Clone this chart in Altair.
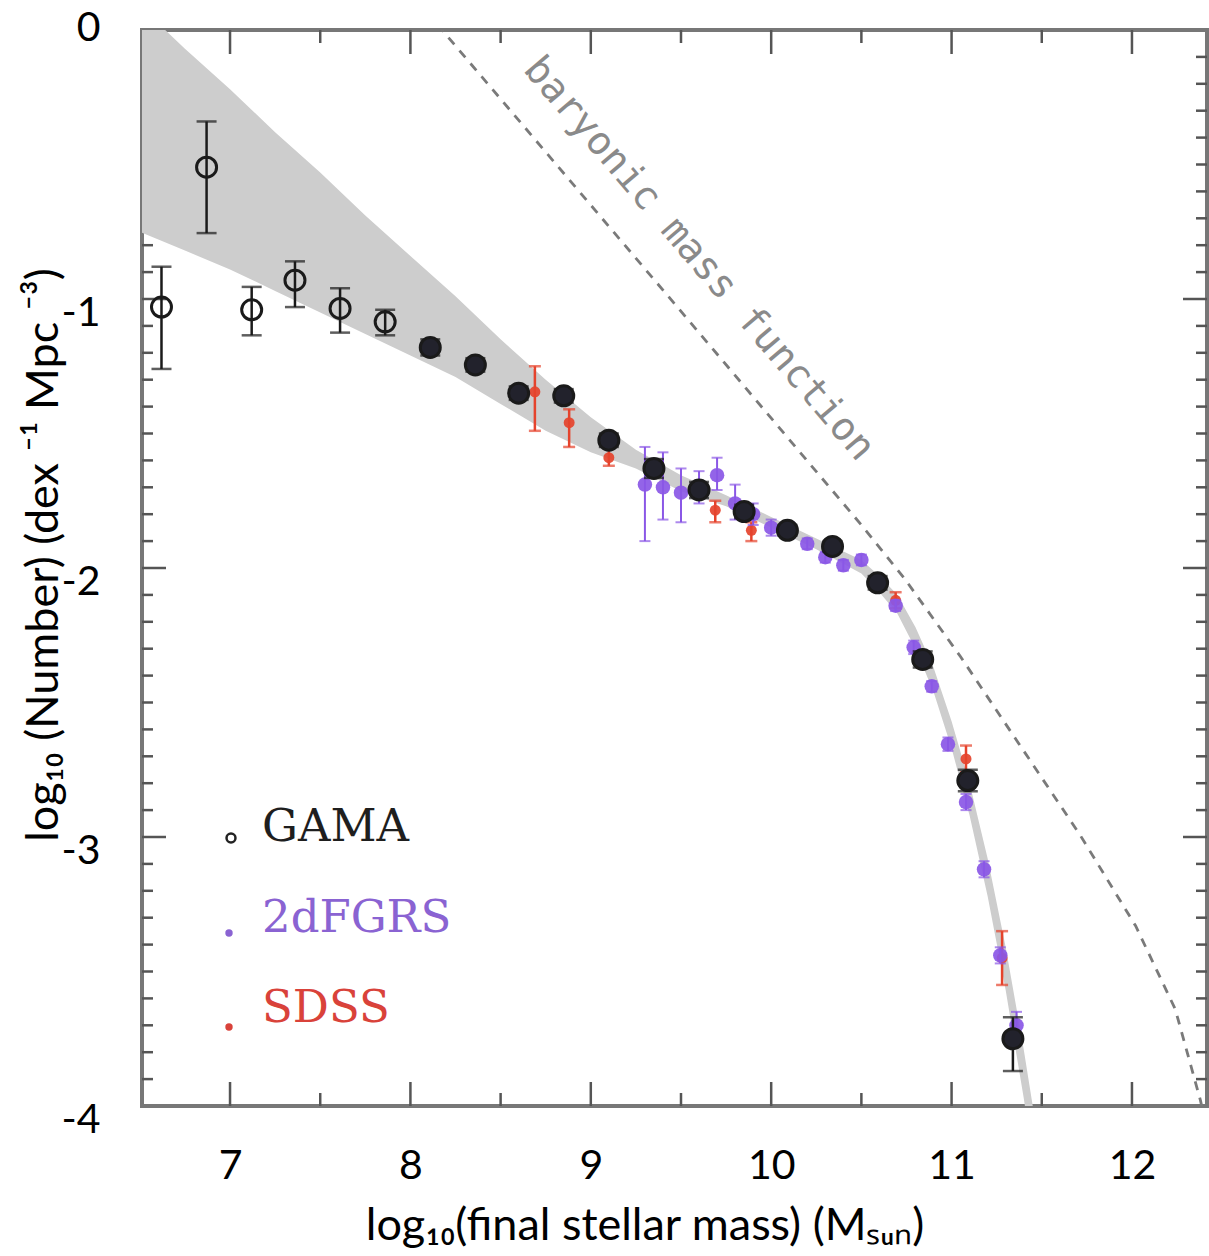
import altair as alt
import pandas as pd

# ---------------- data ----------------
gama_x = [6.62, 6.87, 7.12, 7.36, 7.61, 7.86, 8.11, 8.36, 8.60, 8.85,
          9.10, 9.35, 9.60, 9.85, 10.09, 10.34, 10.59, 10.84, 11.09, 11.34]
gama_y = [-1.03, -0.51, -1.04, -0.93, -1.035, -1.085, -1.18, -1.245, -1.35, -1.36,
          -1.525, -1.63, -1.71, -1.79, -1.86, -1.92, -2.055, -2.34, -2.79, -3.75]
gama_lo = [-1.26, -0.755, -1.135, -1.03, -1.125, -1.135, -1.21, -1.27, -1.375, -1.385,
           -1.55, -1.665, -1.74, -1.815, -1.88, -1.94, -2.08, -2.37, -2.83, -3.87]
gama_hi = [-0.88, -0.34, -0.955, -0.86, -0.96, -1.04, -1.15, -1.22, -1.325, -1.335,
           -1.50, -1.595, -1.68, -1.765, -1.84, -1.90, -2.03, -2.31, -2.75, -3.67]

tdf_x = [9.30, 9.40, 9.50, 9.60, 9.70, 9.80, 9.90, 10.00, 10.10, 10.20, 10.30,
         10.40, 10.50, 10.60, 10.69, 10.79, 10.89, 10.98, 11.08, 11.18, 11.27, 11.36]
tdf_y = [-1.69, -1.70, -1.72, -1.70, -1.655, -1.76, -1.80, -1.85, -1.86, -1.91, -1.96,
         -1.99, -1.97, -2.05, -2.14, -2.295, -2.44, -2.655, -2.87, -3.12, -3.44, -3.70]
tdf_lo = [-1.90, -1.82, -1.83, -1.76, -1.71, -1.82, -1.84, -1.88, -1.89, -1.93, -1.98,
          -2.01, -1.99, -2.07, -2.16, -2.32, -2.46, -2.68, -2.90, -3.15, -3.47, -3.75]
tdf_hi = [-1.55, -1.57, -1.63, -1.64, -1.59, -1.69, -1.76, -1.82, -1.83, -1.89, -1.94,
          -1.97, -1.95, -2.03, -2.12, -2.27, -2.42, -2.63, -2.84, -3.09, -3.41, -3.65]

sdss_x = [8.69, 8.88, 9.10, 9.69, 9.89, 10.69, 11.08, 11.28]
sdss_y = [-1.345, -1.46, -1.59, -1.785, -1.86, -2.12, -2.71, -3.45]
sdss_lo = [-1.49, -1.55, -1.62, -1.83, -1.90, -2.15, -2.76, -3.55]
sdss_hi = [-1.25, -1.41, -1.52, -1.75, -1.83, -2.09, -2.66, -3.35]

band_x = [6.50, 6.75, 7.00, 7.25, 7.50, 7.75, 8.00, 8.25, 8.50, 8.75, 9.00, 9.25,
          9.50, 9.75, 10.00, 10.25, 10.50, 10.60, 10.70, 10.80, 10.90, 11.00,
          11.10, 11.20, 11.30, 11.40, 11.45]
band_up = [0.09, -0.07, -0.22, -0.38, -0.53, -0.69, -0.84, -0.99, -1.15, -1.30, -1.44, -1.56,
           -1.655, -1.73, -1.81, -1.89, -1.97, -2.03, -2.10, -2.22, -2.37, -2.57,
           -2.80, -3.08, -3.41, -3.79, -4.0]
band_lo = [-0.75, -0.82, -0.89, -0.97, -1.05, -1.13, -1.21, -1.29, -1.39, -1.49, -1.57, -1.63,
           -1.715, -1.77, -1.85, -1.93, -2.02, -2.09, -2.17, -2.30, -2.46, -2.67,
           -2.92, -3.22, -3.57, -3.97, -4.2]

bary_x = [8.15, 9.48, 10.50, 10.74, 11.05, 11.38, 11.71, 12.02, 12.24, 12.38, 12.42]
bary_y = [0.02, -1.03, -1.84, -2.04, -2.33, -2.66, -2.99, -3.33, -3.64, -3.98, -4.1]

x_major = [7, 8, 9, 10, 11, 12]
x_half = [7.5, 8.5, 9.5, 10.5, 11.5]
y_labels = [0, -1, -2, -3, -4]
y_major = [-1, -2, -3]
y_minor = [-0.1, -0.2, -0.3, -0.4, -0.5, -0.6, -0.7, -0.8, -0.9,
           -1.1, -1.2, -1.3, -1.4, -1.5, -1.6, -1.7, -1.8, -1.9,
           -2.1, -2.2, -2.3, -2.4, -2.5, -2.6, -2.7, -2.8, -2.9,
           -3.1, -3.2, -3.3, -3.4, -3.5, -3.6, -3.7, -3.8, -3.9]

legend_names = ["GAMA", "2dFGRS", "SDSS"]
x_title = "log\u2081\u2080(final stellar mass) (M\u209b\u1d64\u2099)"
y_title = "log\u2081\u2080 (Number) (dex \u207b\u00b9 Mpc \u207b\u00b3)"
annot = "baryonic mass function"

# ---------------- layout ----------------
W, H = 1065, 1076
xs = alt.Scale(domain=[6.512, 12.416], nice=False, zero=False)
ys = alt.Scale(domain=[-4, 0], nice=False, zero=False)
FONT = "Lato"
TICK_C = "#555555"
C_GAMA = "#1a1a1a"
C_2DF = "#8a57e6"
C_SDSS = "#e5432c"

x_axis = alt.Axis(values=x_major, format="d", labelFont=FONT, labelFontSize=41,
                  labelColor="black", labelPadding=40, domain=False, ticks=False, grid=False,
                  title=None, labelFlush=False, labelOverlap=False)
y_axis = alt.Axis(values=y_labels, labelFont=FONT, labelFontSize=41,
                  labelColor="black", labelPadding=42, domain=False, ticks=False, grid=False,
                  title=None, labelFlush=False, labelOverlap=False, labelBaseline="middle",
                  labelExpr="datum.value == 0 ? '0' : '-' + format(-datum.value, 'd')",
                  labelOffset={"condition": {"test": "datum.value == 0", "value": -2}, "value": 14})


def XQ(field):
    return alt.X(field, type="quantitative", scale=xs, axis=x_axis)


def YQ(field):
    return alt.Y(field, type="quantitative", scale=ys, axis=y_axis)


band_df = pd.DataFrame({"x": band_x, "up": band_up, "lo": band_lo})
band = alt.Chart(band_df).mark_area(color="#cdcdcd", clip=True).encode(
    x=XQ("x"), y=YQ("up"), y2="lo:Q")


def vticks(vals, y0, y1):
    return alt.Chart(pd.DataFrame({"v": vals})).mark_rule(color=TICK_C, strokeWidth=2.5).encode(
        x=XQ("v"), y=alt.value(y0), y2=alt.value(y1))


def hticks(vals, x0, x1):
    return alt.Chart(pd.DataFrame({"v": vals})).mark_rule(color=TICK_C, strokeWidth=2.5).encode(
        y=YQ("v"), x=alt.value(x0), x2=alt.value(x1))


ticks = [vticks(x_major, H, H - 24), vticks(x_half, H, H - 13),
         vticks(x_major, 0, 24), vticks(x_half, 0, 13),
         hticks(y_major, 0, 24), hticks(y_minor, 0, 11),
         hticks(y_major, W, W - 24), hticks(y_minor, W, W - 11)]

bary = alt.Chart(pd.DataFrame({"x": bary_x, "y": bary_y})).mark_line(
    color="#7a7a7a", strokeWidth=2.8, strokeDash=[9, 8], clip=True).encode(
    x=XQ("x"), y=YQ("y"), order="x:Q")

annot_txt = alt.Chart(pd.DataFrame({"t": [annot]})).mark_text(
    font="DejaVu Sans Mono", fontSize=39, color="#8a8a8a", angle=49.5,
    align="center", baseline="middle").encode(
    x=alt.datum(9.60), y=alt.datum(-0.85), text="t:N")


def series(xv, yv, lo, hi, color, cap, bar_w, size, kind):
    df = pd.DataFrame({"x": xv, "y": yv, "lo": lo, "hi": hi})
    base = alt.Chart(df)
    rule = base.mark_rule(color=color, strokeWidth=bar_w, clip=True).encode(
        x=XQ("x"), y=YQ("lo"), y2="hi:Q")
    cap_lo = base.mark_tick(color=color, orient="horizontal", size=cap, thickness=bar_w,
                            clip=True).encode(x=XQ("x"), y=YQ("lo"))
    cap_hi = base.mark_tick(color=color, orient="horizontal", size=cap, thickness=bar_w,
                            clip=True).encode(x=XQ("x"), y=YQ("hi"))
    if kind == "open":
        pts = base.mark_point(shape="circle", size=size, stroke=color, strokeWidth=3,
                              opacity=1, clip=True).encode(
            x=XQ("x"), y=YQ("y"),
            fill=alt.condition("datum.x >= 8", alt.value("#22222c"), alt.value("transparent")))
    else:
        pts = base.mark_circle(size=size, color=color, opacity=0.92, clip=True).encode(
            x=XQ("x"), y=YQ("y"))
    return [rule, cap_lo, cap_hi, pts]


sdss = series(sdss_x, sdss_y, sdss_lo, sdss_hi, C_SDSS, 12, 2.5, 120, "filled")
tdf = series(tdf_x, tdf_y, tdf_lo, tdf_hi, C_2DF, 11, 2, 210, "filled")
gama = series(gama_x, gama_y, gama_lo, gama_hi, C_GAMA, 20, 2.5, 400, "open")

# ---------------- legend (inside the plot, bottom left) ----------------
leg_df = pd.DataFrame({"name": legend_names})
leg_colors = ["#1e1e1e", "#8a63d2", "#d9423a"]
leg_y = [797, 888, 978]
mark_y = [808, 903, 997]
legend = []
for i, nm in enumerate(legend_names):
    d = alt.Chart(leg_df).transform_filter(alt.datum.name == nm)
    legend.append(d.mark_text(font="DejaVu Serif", fontSize=45, color=leg_colors[i],
                              align="left", baseline="middle").encode(
        x=alt.value(120), y=alt.value(leg_y[i]), text="name:N"))
    if i == 0:
        legend.append(d.mark_point(shape="circle", size=80, stroke="#222", strokeWidth=2.5,
                                   fill="transparent", opacity=1).encode(
            x=alt.value(89), y=alt.value(mark_y[i])))
    else:
        legend.append(d.mark_circle(size=55, color=leg_colors[i], opacity=1).encode(
            x=alt.value(87), y=alt.value(mark_y[i])))

titles = [
    alt.Chart(pd.DataFrame({"t": [x_title]})).mark_text(
        font=FONT, fontSize=45, color="black", align="center", baseline="middle").encode(
        x=alt.value(503), y=alt.value(1196), text="t:N"),
    alt.Chart(pd.DataFrame({"t": [y_title]})).mark_text(
        font=FONT, fontSize=45, color="black", align="center", baseline="middle",
        angle=270).encode(x=alt.value(-98), y=alt.value(525), text="t:N"),
]

layers = ticks + [band, bary, annot_txt] + sdss + tdf + gama + legend + titles
chart = alt.layer(*layers).properties(
    width=W, height=H,
    padding={"left": 142, "top": 30, "right": 2, "bottom": 150},
    autosize=alt.AutoSizeParams(type="none"),
    background="white",
).configure_view(stroke="#777777", strokeWidth=4)

chart.save("out.html", embed_options={"renderer": "svg", "actions": False})
